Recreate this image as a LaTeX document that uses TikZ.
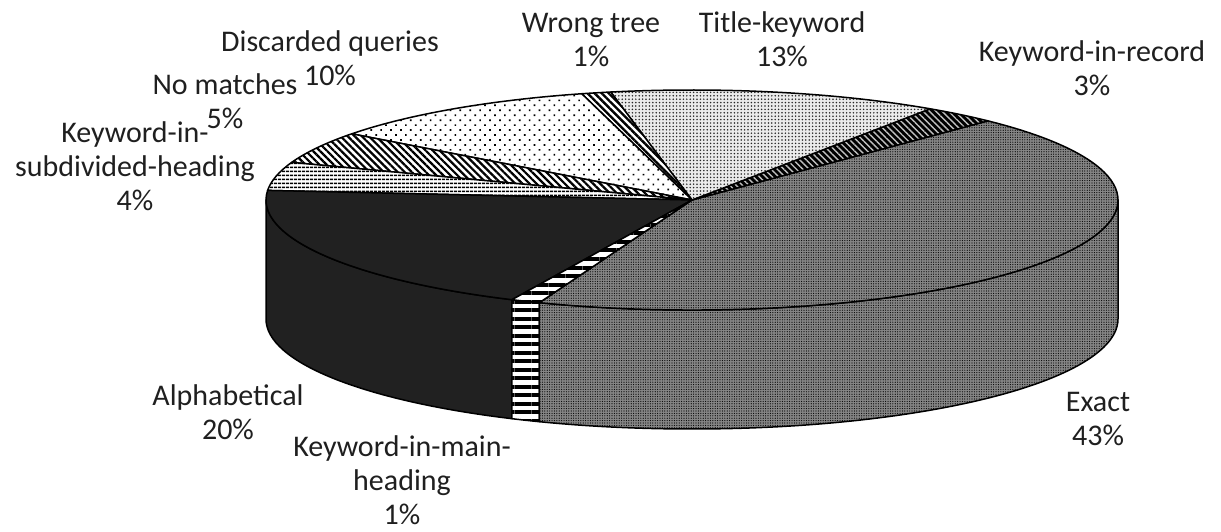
\documentclass[tikz,border=0pt]{standalone}
\usepackage{fontspec}
\setmainfont{Carlito}
\usetikzlibrary{patterns.meta,calc}

% pie geometry (pt): radii of the top ellipse, thickness
\def\prx{426}
\def\pry{110}
\def\pdep{119}

% top face of one slice: start angle, end angle, style
\newcommand\pietop[3]{%
  \path[#3] (O) -- ++(#1:\prx pt and \pry pt)
    arc[start angle=#1, end angle=#2, x radius=\prx pt, y radius=\pry pt] -- cycle;}
% visible rim of one slice: start angle, end angle, style
\newcommand\pieside[3]{%
  \path[#3] ($(O)+(#1:\prx pt and \pry pt)$)
    arc[start angle=#1, end angle=#2, x radius=\prx pt, y radius=\pry pt]
    -- ++(0,-\pdep pt)
    arc[start angle=#2, end angle=#1, x radius=\prx pt, y radius=\pry pt] -- cycle;}

\begin{document}
\begin{tikzpicture}[x=1pt, y=1pt,
  every node/.style={inner sep=0pt, outer sep=0pt},
  lbl/.style={anchor=base, font=\fontsize{30}{34}\selectfont, text=black!88},
  rim/.style={draw=black, line width=1.5pt, line join=round},
  sExact/.style={rim, preaction={fill=black!48},
    pattern={Dots[distance=2.4pt, radius=0.6pt]}, pattern color=black},
  sRecord/.style={rim, preaction={fill=black},
    pattern={Lines[angle=-45, distance=4.5pt, line width=1.4pt]}, pattern color=black!25},
  sTitle/.style={rim, preaction={fill=black!8},
    pattern={Dots[distance=3.4pt, radius=0.85pt]}, pattern color=black!85},
  sWrong/.style={rim, preaction={fill=white},
    pattern={Lines[angle=-45, distance=5pt, line width=2.3pt]}, pattern color=black},
  sDisc/.style={rim, preaction={fill=white},
    pattern={Dots[distance=7pt, angle=45, radius=1.2pt]}, pattern color=black},
  sNoMatch/.style={rim, preaction={fill=white},
    pattern={Lines[angle=-45, distance=5pt, line width=2.2pt]}, pattern color=black},
  sSubdiv/.style={rim, preaction={fill=white},
    pattern={Lines[angle=0, distance=4pt, line width=1.6pt]}, pattern color=black},
  sAlpha/.style={rim, fill=black!87},
  sMain/.style={rim, preaction={fill=white},
    pattern={Lines[angle=0, distance=8.5pt, line width=4pt]}, pattern color=black},
]
\useasboundingbox (0,0) rectangle (1221,531);
\coordinate (O) at (692,331);

% rim of the front half
\pieside{180}{245}{sAlpha}
\pieside{245}{249}{sMain}
\pieside{249}{360}{sExact}

% top faces
\pietop{-111}{46}{sExact}
\pietop{46}{56}{sRecord}
\pietop{56}{101}{sTitle}
\pietop{101}{105}{sWrong}
\pietop{105}{143}{sDisc}
\pietop{143}{160}{sNoMatch}
\pietop{160}{175}{sSubdiv}
\pietop{175}{245}{sAlpha}
\pietop{245}{249}{sMain}

% slice labels
\node[lbl] (lExact)   at (1098,120) {\begin{tabular}[t]{@{}c@{}}Exact\\43\%\end{tabular}};
\node[lbl] (lRecord)  at (1092,469) {\begin{tabular}[t]{@{}c@{}}Keyword-in-record\\3\%\end{tabular}};
\node[lbl] (lTitle)   at (782,498)  {\begin{tabular}[t]{@{}c@{}}Title-keyword\\13\%\end{tabular}};
\node[lbl] (lWrong)   at (591,498)  {\begin{tabular}[t]{@{}c@{}}Wrong tree\\1\%\end{tabular}};
\node[lbl] (lDisc)    at (330,479)  {\begin{tabular}[t]{@{}c@{}}Discarded queries\\10\%\end{tabular}};
\node[lbl] (lNoMatch) at (225,436)  {\begin{tabular}[t]{@{}c@{}}No matches\\5\%\end{tabular}};
\node[lbl] (lSubdiv)  at (135,388)  {\begin{tabular}[t]{@{}c@{}}Keyword-in-\\subdivided-heading\\4\%\end{tabular}};
\node[lbl] (lAlpha)   at (228,126)  {\begin{tabular}[t]{@{}c@{}}Alphabetical\\20\%\end{tabular}};
\node[lbl] (lMain)    at (402,75)   {\begin{tabular}[t]{@{}c@{}}Keyword-in-main-\\heading\\1\%\end{tabular}};
\end{tikzpicture}
\end{document}
